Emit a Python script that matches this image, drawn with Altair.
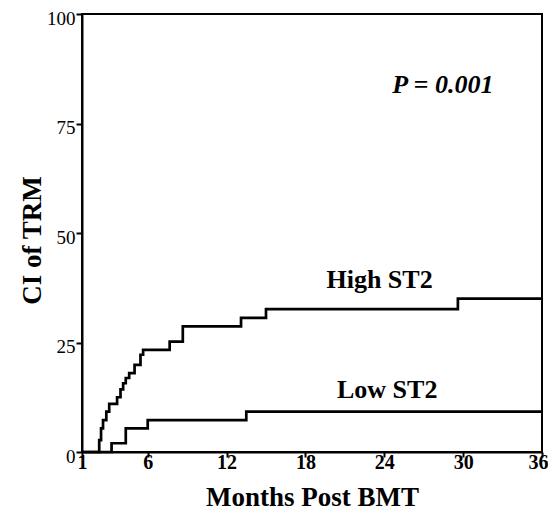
import altair as alt
import pandas as pd

# ---- data ----
high_months = [1, 2.31, 2.45, 2.6, 2.85, 3.07, 3.67, 3.93, 4.13, 4.33, 4.59, 5.0, 5.45, 5.65, 7.67, 8.67, 13.1, 15.0, 29.6, 36]
high_ci = [0, 2.7, 5.4, 7.3, 9.2, 11.0, 12.5, 14.3, 15.7, 16.9, 18.0, 19.9, 22.2, 23.3, 25.2, 28.7, 30.6, 32.6, 35.0, 35.0]
low_months = [1, 3.25, 4.33, 6.0, 13.5, 36]
low_ci = [0, 2.0, 5.4, 7.3, 9.2, 9.2]

x_ticks = [1, 6, 12, 18, 24, 30, 36]
y_ticks = [0, 25, 50, 75, 100]

series_labels = ["High ST2", "Low ST2"]
label_months = [19.6, 20.4]
label_ci = [37.4, 12.3]

p_label = ["P = 0.001"]
p_month = [24.6]
p_ci = [82.0]

FONT = "Liberation Serif"

curves = pd.concat([
    pd.DataFrame({"month": high_months, "ci": high_ci, "group": "High ST2"}),
    pd.DataFrame({"month": low_months, "ci": low_ci, "group": "Low ST2"}),
])
lab_df = pd.DataFrame({"month": label_months, "ci": label_ci, "text": series_labels})
p_df = pd.DataFrame({"month": p_month, "ci": p_ci, "text": p_label})

x_enc = alt.X(
    "month:Q",
    scale=alt.Scale(domain=[1, 36], nice=False, zero=False),
    axis=alt.Axis(
        values=x_ticks, title="Months Post BMT", grid=False,
        labelFont=FONT, labelFontSize=20, labelFontWeight="bold", labelColor="black",
        labelBaseline="alphabetic", labelPadding=11, tickSize=5, tickWidth=2, tickColor="black",
        labelOffset=alt.ExprRef("datum.value == 36 ? -4 : 0"),
        domainColor="black", domainWidth=2,
        titleFont=FONT, titleFontSize=27, titleFontWeight="bold", titleColor="black",
        titleBaseline="alphabetic", titleY=53, labelFlush=False,
    ),
)
y_enc = alt.Y(
    "ci:Q",
    scale=alt.Scale(domain=[0, 100], nice=False),
    axis=alt.Axis(
        values=y_ticks, title="CI of TRM", grid=False,
        labelFont=FONT, labelFontSize=19, labelFontWeight="normal", labelColor="black",
        labelPadding=1, labelOffset=4, tickSize=6, tickWidth=2, tickColor="black",
        domainColor="black", domainWidth=2,
        titleFont=FONT, titleFontSize=27, titleFontWeight="bold", titleColor="black",
        titleAngle=270, titleAlign="center", titleBaseline="alphabetic",
        titleX=-42, titleY=226, labelFlush=False,
    ),
)

lines = alt.Chart(curves).mark_line(
    interpolate="step-after", color="black", strokeWidth=2.7
).encode(x=x_enc, y=y_enc, detail="group:N")

labels = alt.Chart(lab_df).mark_text(
    font=FONT, fontSize=26, fontWeight="bold", align="left", baseline="alphabetic", color="black"
).encode(x=x_enc, y=y_enc, text="text:N")

ptext = alt.Chart(p_df).mark_text(
    font=FONT, fontSize=26, fontWeight="bold", fontStyle="italic", align="left",
    baseline="alphabetic", color="black"
).encode(x=x_enc, y=y_enc, text="text:N")

chart = alt.layer(lines, labels, ptext).properties(
    width=460, height=438,
    autosize=alt.AutoSizeParams(type="none"),
    padding={"left": 74, "top": 6, "right": 6, "bottom": 58},
    background="white",
).configure_view(stroke="black", strokeWidth=2)

chart.save("out.html", embed_options={"renderer": "svg", "actions": False})
